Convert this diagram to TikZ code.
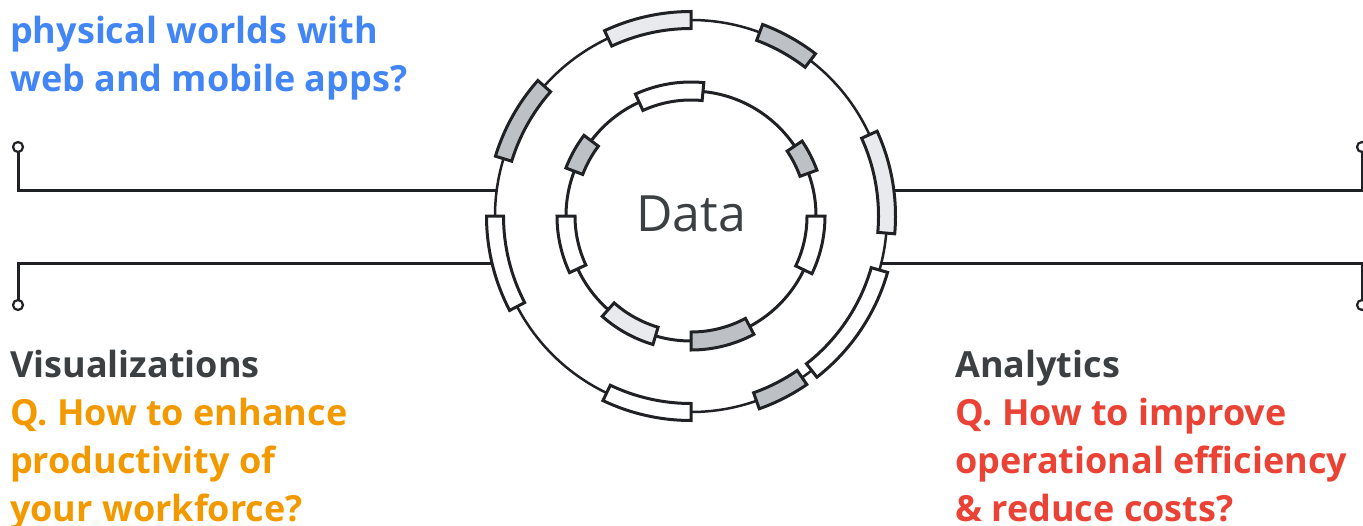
\documentclass[tikz,border=0pt]{standalone}
\usepackage{fontspec}
\setmainfont{Open Sans}
\usetikzlibrary{positioning}

\definecolor{inkgrey}{HTML}{202124}
\definecolor{titlegrey}{HTML}{3C4043}
\definecolor{gblue}{HTML}{4285F4}
\definecolor{gorange}{HTML}{F29900}
\definecolor{gred}{HTML}{EA4335}
\definecolor{segdark}{HTML}{BDC1C6}
\definecolor{seglight}{HTML}{E8EAED}

\tikzset{
  ring/.style={circle,draw=inkgrey,inner sep=0pt,outer sep=0pt},
  wire/.style={draw=inkgrey,line width=3pt},
  pin/.style={circle,draw=inkgrey,fill=white,line width=2.2pt,
    minimum size=10pt,inner sep=0pt,outer sep=0pt},
  segment/.style={draw=inkgrey,line width=3pt,line join=miter},
  title/.style={font=\bfseries\fontsize{36}{48}\selectfont,text=titlegrey,
    anchor=base west,inner sep=0pt,align=left},
  question/.style={title,text=#1},
  datalabel/.style={font=\fontsize{50}{60}\selectfont,text=titlegrey,
    anchor=base,inner sep=0pt}
}

\begin{document}
\begin{tikzpicture}[x=1pt,y=1pt]

        \useasboundingbox (0,0) rectangle (1363,-525);
        \coordinate (c) at (691,-216);

        % rings
        \node[ring,line width=2.5pt,minimum size=392pt] (outer) at (c) {};
        \node[ring,line width=3pt,minimum size=250pt]   (inner) at (c) {};
        \node[datalabel] (data) at (691,-231) {Data};

        % segments on the outer ring
        \begin{scope}[shift={(c)}]
          \foreach \a/\b/\col in {90/115/seglight, 52.5/69.5/segdark,
                                   -5/24.5/seglight, -52/-16/white,
                                   -70.5/-55.5/segdark, -115.5/-90/white,
                                   180/207.5/white, 138.5/163/segdark}
            \draw[segment,fill=\col] (\a:187.5) arc (\a:\b:187.5)
              -- (\b:204.5) arc (\b:\a:204.5) -- cycle;

          % segments on the inner ring
          \foreach \a/\b/\col in {84.5/114.5/white, 20/34/segdark,
                                   143/159/segdark, 180/205/white,
                                   -25.5/0/white, 228.5/253.5/seglight,
                                   270/298/segdark}
            \draw[segment,fill=\col] (\a:116) arc (\a:\b:116)
              -- (\b:134) arc (\b:\a:134) -- cycle;
        \end{scope}

        % ends of the wires
        \path (c) ++(172.4:196)   coordinate (lu);
        \path (c) ++(193.3:204.5) coordinate (ll);
        \path (c) ++(7.3:204.5)   coordinate (ru);
        \path (c) ++(-13.9:196)   coordinate (rl);

        \node[pin] (pinlu) at (18,-147) {};
        \node[pin] (pinll) at (18,-305) {};
        \node[pin] (pinru) at (1362,-147) {};
        \node[pin] (pinrl) at (1362,-305) {};

        \draw[wire] (lu) -| (pinlu.south);
        \draw[wire] (ll) -| (pinll.north);
        \draw[wire] (ru) -| (pinru.south);
        \draw[wire] (rl) -| (pinrl.north);

        % texts (base = last line)
        \node[question=gblue] (apps) at (10,-91)
          {physical worlds with\\web and mobile apps?};

        \node[title] (vis) at (10,-377) {Visualizations};
        \node[question=gorange] (visq) at (10,-521)
          {Q. How to enhance\\productivity of\\your workforce?};

        \node[title] (ana) at (955,-377) {Analytics};
        \node[question=gred] (anaq) at (955,-521)
          {Q. How to improve\\operational efficiency\\\& reduce costs?};

      \end{tikzpicture}
\end{document}
